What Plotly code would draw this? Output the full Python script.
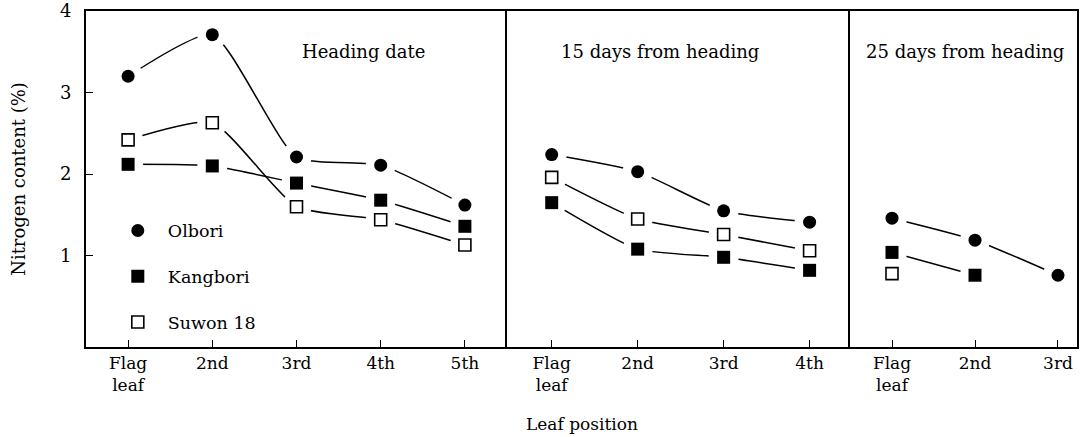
import plotly.graph_objects as go

# ---------------- data ----------------
panel_titles = ["Heading date", "15 days from heading", "25 days from heading"]
cats_p1 = ["Flag<br>leaf", "2nd", "3rd", "4th", "5th"]
cats_p2 = ["Flag<br>leaf", "2nd", "3rd", "4th"]
cats_p3 = ["Flag<br>leaf", "2nd", "3rd"]

series_names = ["Olbori", "Kangbori", "Suwon 18"]

olbori_p1 = [3.20, 3.71, 2.21, 2.11, 1.62]
kangbori_p1 = [2.12, 2.10, 1.89, 1.68, 1.36]
suwon_p1 = [2.42, 2.63, 1.60, 1.44, 1.13]

olbori_p2 = [2.24, 2.03, 1.55, 1.41]
kangbori_p2 = [1.65, 1.08, 0.98, 0.82]
suwon_p2 = [1.96, 1.45, 1.26, 1.06]

olbori_p3 = [1.46, 1.19, 0.76]
kangbori_p3 = [1.04, 0.76]
suwon_p3 = [0.78]

y_ticks = [1, 2, 3, 4]
# --------------------------------------

FONT = "DejaVu Serif"
BLACK = "#000000"

panels = [
    (cats_p1, [olbori_p1, kangbori_p1, suwon_p1], "x", "y"),
    (cats_p2, [olbori_p2, kangbori_p2, suwon_p2], "x2", "y2"),
    (cats_p3, [olbori_p3, kangbori_p3, suwon_p3], "x3", "y3"),
]

marker_styles = [
    dict(symbol="circle", size=13, color=BLACK, line=dict(width=0)),
    dict(symbol="square", size=13, color=BLACK, line=dict(width=0)),
    dict(symbol="square", size=12, color="white", line=dict(width=1.6, color=BLACK)),
]

fig = go.Figure()

for pi, (cats, vals, xa, ya) in enumerate(panels):
    for si, v in enumerate(vals):
        xs = list(range(len(v)))
        if len(v) > 1:
            fig.add_trace(go.Scatter(
                x=xs, y=v, mode="lines", xaxis=xa, yaxis=ya,
                line=dict(color=BLACK, width=1.5, shape="spline", smoothing=0.55),
                showlegend=False, hoverinfo="skip"))
    for si, v in enumerate(vals):
        xs = list(range(len(v)))
        fig.add_trace(go.Scatter(
            x=xs, y=v, mode="markers", xaxis=xa, yaxis=ya,
            marker=dict(symbol="circle", size=30, color="white", line=dict(width=0)),
            showlegend=False, hoverinfo="skip"))
    for si, v in enumerate(vals):
        xs = list(range(len(v)))
        fig.add_trace(go.Scatter(
            x=xs, y=v, mode="markers", xaxis=xa, yaxis=ya,
            marker=marker_styles[si], name=series_names[si],
            legendgroup=series_names[si],
            showlegend=(pi == 0)))

LW = 1.8
d1 = 421 / 991
d2 = 764 / 991

xcommon = dict(ticks="inside", ticklen=7, tickwidth=1.2, tickcolor=BLACK,
               tickfont=dict(family=FONT, size=17, color=BLACK),
               showline=True, linecolor=BLACK, linewidth=LW, mirror=True,
               showgrid=False, zeroline=False, automargin=False)

ycommon = dict(range=[-0.12, 4.0], showline=True, linecolor=BLACK, linewidth=LW,
               showgrid=False, zeroline=False, automargin=False)

fig.update_layout(
    xaxis=dict(domain=[0, d1], range=[-0.5, 4.5],
               tickvals=list(range(len(cats_p1))), ticktext=cats_p1, **xcommon),
    xaxis2=dict(domain=[d1, d2], range=[-0.52, 3.47], anchor="y2",
                tickvals=list(range(len(cats_p2))), ticktext=cats_p2, **xcommon),
    xaxis3=dict(domain=[d2, 1], range=[-0.506, 2.229], anchor="y3",
                tickvals=list(range(len(cats_p3))), ticktext=cats_p3, **xcommon),
    yaxis=dict(tickvals=y_ticks, ticks="inside", ticklen=7,
               tickwidth=1.2, tickcolor=BLACK, mirror=False,
               ticklabelstandoff=9,
               tickfont=dict(family=FONT, size=18, color=BLACK),
               title=dict(text="Nitrogen content (%)", standoff=30,
                          font=dict(family=FONT, size=18, color=BLACK)),
               **ycommon),
    yaxis2=dict(anchor="x2", showticklabels=False, ticks="", mirror=False,
                matches="y", **ycommon),
    yaxis3=dict(anchor="x3", showticklabels=False, ticks="", mirror=True,
                matches="y", **ycommon),
)

title_pos = [("x domain", "y domain", 0.658), ("x2 domain", "y2 domain", 0.446),
             ("x3 domain", "y3 domain", 0.507)]
for (xr, yr, xp), t in zip(title_pos, panel_titles):
    fig.add_annotation(text=t, xref=xr, yref=yr, x=xp, y=0.878, showarrow=False,
                       xanchor="center", yanchor="middle",
                       font=dict(family=FONT, size=18, color=BLACK))

fig.add_annotation(text="Leaf position", xref="paper", yref="paper", x=0.5, y=-0.229,
                   showarrow=False, xanchor="center", yanchor="middle",
                   font=dict(family=FONT, size=17, color=BLACK))

fig.update_layout(
    width=1082, height=437,
    margin=dict(l=86, r=5, t=11, b=90, autoexpand=False),
    paper_bgcolor="white", plot_bgcolor="white",
    showlegend=True,
    legend=dict(x=0.022, y=0.40, xanchor="left", yanchor="top",
                bgcolor="rgba(0,0,0,0)", borderwidth=0,
                font=dict(family=FONT, size=17.5, color=BLACK),
                traceorder="grouped", tracegroupgap=20, itemwidth=50),
)

fig.write_html("out.html", config={"displayModeBar": False},
               post_script="document.body.style.margin='0';document.body.style.padding='0';")
